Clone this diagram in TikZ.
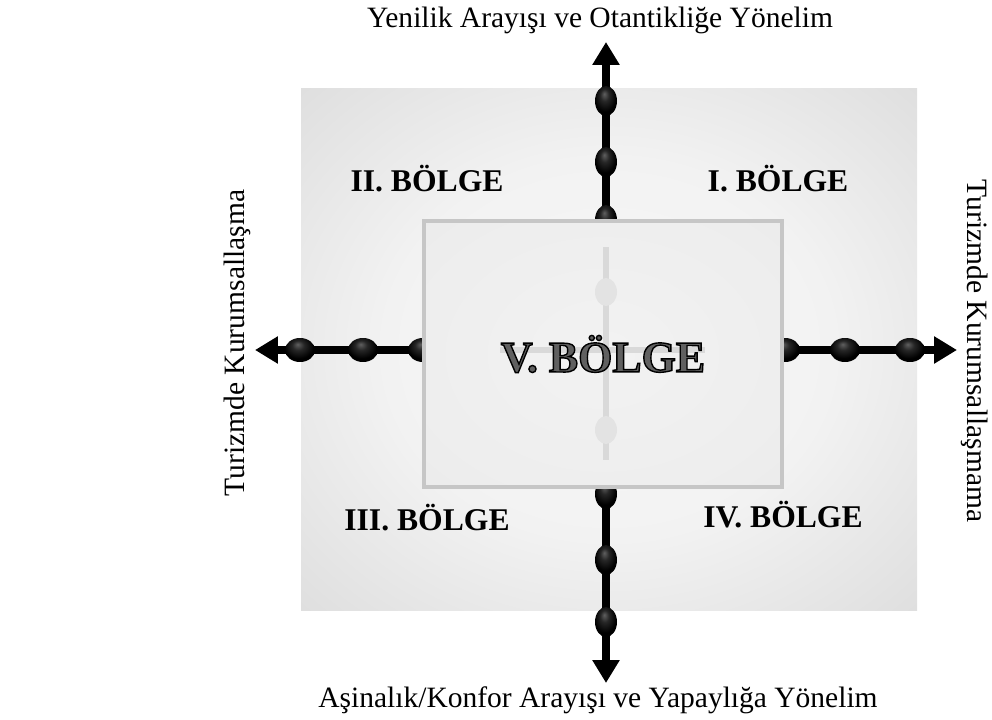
\documentclass[tikz,border=0pt]{standalone}
\usepackage{fontspec}
\setmainfont{Liberation Serif}
\usepackage{tikz}
\usetikzlibrary{arrows.meta,positioning,shapes.geometric}
\pgfdeclareradialshading{panel}{\pgfpoint{0bp}{0bp}}{%
  color(0bp)=(gray!6); color(18bp)=(gray!10); color(50bp)=(gray!38); color(72bp)=(gray!50)}
\pgfdeclareradialshading{inbox}{\pgfpoint{0bp}{0bp}}{%
  color(0bp)=(gray!10); color(30bp)=(gray!14); color(72bp)=(gray!26)}
\pgfdeclareradialshading{bead}{\pgfpoint{-4bp}{12bp}}{%
  color(0bp)=(gray!75!black); color(10bp)=(black!85); color(24bp)=(black); color(50bp)=(black)}
\newcommand{\outlinetext}[1]{{\color{gray!75!black}\special{pdf:literal direct 0 G 2 Tr 0.8 w}#1\special{pdf:literal direct 0 Tr}}}
\tikzset{
  lbl/.style={font=\fontsize{16.8}{18}\selectfont, inner sep=0pt},
  zone/.style={font=\fontsize{18}{20}\selectfont\bfseries, inner sep=0pt},
  axis/.style={line width=0.16cm, {Triangle[length=0.46cm, width=0.52cm]}-{Triangle[length=0.46cm, width=0.52cm]}},
  vbead/.style={ellipse, inner sep=0pt, minimum width=0.44cm, minimum height=0.6cm, shading=bead},
  hbead/.style={ellipse, inner sep=0pt, minimum width=0.6cm, minimum height=0.48cm, shading=bead},
  ghost/.style={ellipse, inner sep=0pt, minimum width=0.44cm, minimum height=0.56cm, fill=gray!22},
}

\begin{document}
\begin{tikzpicture}[x=0.02cm, y=-0.02cm]
\useasboundingbox (0,0) rectangle (992,720);
% outer panel
\path[shading=panel] (301,88) rectangle (917,610);
% axes
\coordinate (N) at (606,42);
\coordinate (S) at (606,683);
\coordinate (W) at (255,350);
\coordinate (E) at (957,350);
\draw[axis] (S) -- (N);
\draw[axis] (W) -- (E);
\foreach \y [count=\i] in {101,162,220,494,560,622}
  \node[vbead] (v\i) at (606,\y) {};
\foreach \x [count=\i] in {300,363,423,785,845,910}
  \node[hbead] (h\i) at (\x,350) {};
% middle box
\node[draw=gray!45, line width=0.08cm, shading=inbox, minimum width=7.16cm, minimum height=5.32cm, inner sep=0pt] (box) at (603,354) {};
\coordinate (gt) at (606,247);
\coordinate (gb) at (606,460);
\coordinate (gl) at (500,350);
\coordinate (gr) at (705,350);
\draw[gray!30, line width=0.12cm] (gt) -- (gb);
\draw[gray!30, line width=0.12cm] (gl) -- (gr);
\node[ghost] (g1) at (606,292) {};
\node[ghost] (g2) at (606,430) {};
\node[font=\fontsize{25}{28}\selectfont\bfseries] (z5) at (box.center) {\outlinetext{V. BÖLGE}};
% zones
\node[zone] (z2) at (427,179) {II. BÖLGE};
\node[zone] (z1) at (778,179) {I. BÖLGE};
\node[zone] (z3) at (427,518) {III. BÖLGE};
\node[zone] (z4) at (783,515) {IV. BÖLGE};
% axis labels
\node[lbl] (top) at (600,20) {Yenilik Arayışı ve Otantikliğe Yönelim};
\node[lbl] (bot) at (598,700) {Aşinalık/Konfor Arayışı ve Yapaylığa Yönelim};
\node[lbl, rotate=90] (lft) at (237,343) {Turizmde Kurumsallaşma};
\node[lbl, rotate=-90] (rgt) at (975,351) {Turizmde Kurumsallaşmama};
\end{tikzpicture}
\end{document}
